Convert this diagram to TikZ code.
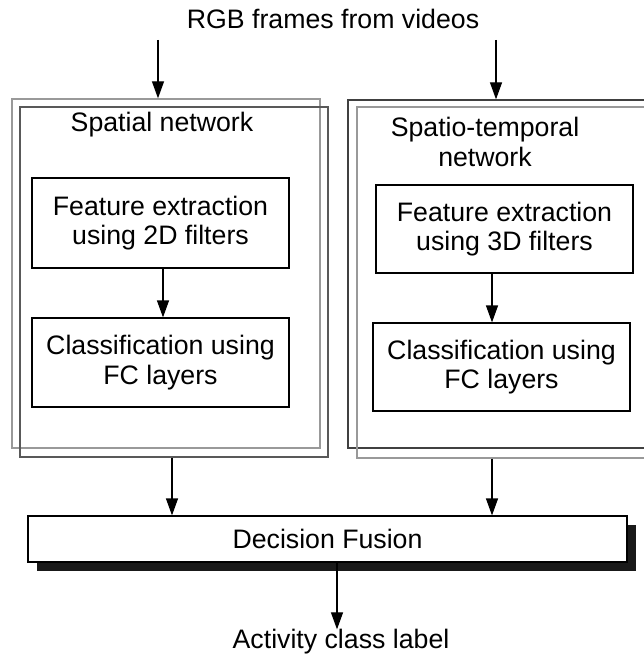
\documentclass[tikz,border=0pt]{standalone}
\usepackage{fontspec}
\setmainfont{Liberation Sans}
\usetikzlibrary{arrows.meta,shadows}
\begin{document}
\begin{tikzpicture}[x=1pt,y=-1pt,
  every node/.style={font=\fontsize{26.7}{29.5}\selectfont, inner sep=0pt},
  box/.style={draw=black, line width=1.2pt, fill=white, align=center},
  outerbox/.style={draw, line width=1.3pt},
  arr/.style={line width=1.2pt, -{Triangle[length=17pt,width=12pt]}}]
\useasboundingbox (0,0) rectangle (644,655);
\clip (0,0) rectangle (644,655);
% title
\node (title) at (333,19) {RGB frames from videos};
% outer network boxes
\node[outerbox, draw=black!40, minimum width=308pt, minimum height=349pt] (LA) at (166,273.5) {};
\node[outerbox, draw=black!65, minimum width=308pt, minimum height=350pt] (LB) at (174,282) {};
\node[outerbox, draw=black!75, minimum width=312pt, minimum height=348pt] (RA) at (504,274) {};
\node[outerbox, draw=black!40, minimum width=312pt, minimum height=351pt] (RB) at (513,282.5) {};
% labels
\node (lsp) at (162,125) {Spatial network};
\node[align=center] (lst) at (485,142) {Spatio-temporal\\network};
% inner boxes
\node[box, minimum width=257pt, minimum height=90pt] (F1) at (160.5,223) {Feature extraction\\using 2D filters};
\node[box, minimum width=257pt, minimum height=89pt] (C1) at (160.5,362.5) {Classification using\\FC layers};
\node[box, minimum width=257pt, minimum height=88pt] (F2) at (504.5,229) {Feature extraction\\using 3D filters};
\node[box, minimum width=257pt, minimum height=88pt] (C2) at (501.5,367) {Classification using\\FC layers};
% decision fusion
\node[box, minimum width=599pt, minimum height=46pt,
  drop shadow={shadow xshift=9pt, shadow yshift=-9pt, fill=black!90, opacity=1}] (DF) at (327.5,539) {Decision Fusion};
\node (out) at (341,642) {Activity class label};
% helper coordinates
\coordinate (in1) at (158,40);
\coordinate (in2) at (496,40);
\coordinate (x1) at (163,0);
\coordinate (x2) at (492,0);
\coordinate (y1) at (172,0);
\coordinate (y3) at (337,0);
% connectors
\draw[arr] (in1) -- (in1 |- LA.north);
\draw[arr] (in2) -- (in2 |- RA.north);
\draw[arr] (F1.south -| x1) -- (C1.north -| x1);
\draw[arr] (F2.south -| x2) -- (C2.north -| x2);
\draw[arr] (LB.south -| y1) -- (DF.north -| y1);
\draw[arr] (RB.south -| x2) -- (DF.north -| x2);
\draw[arr] (DF.south -| y3) -- (out.north -| y3);
\end{tikzpicture}
\end{document}
